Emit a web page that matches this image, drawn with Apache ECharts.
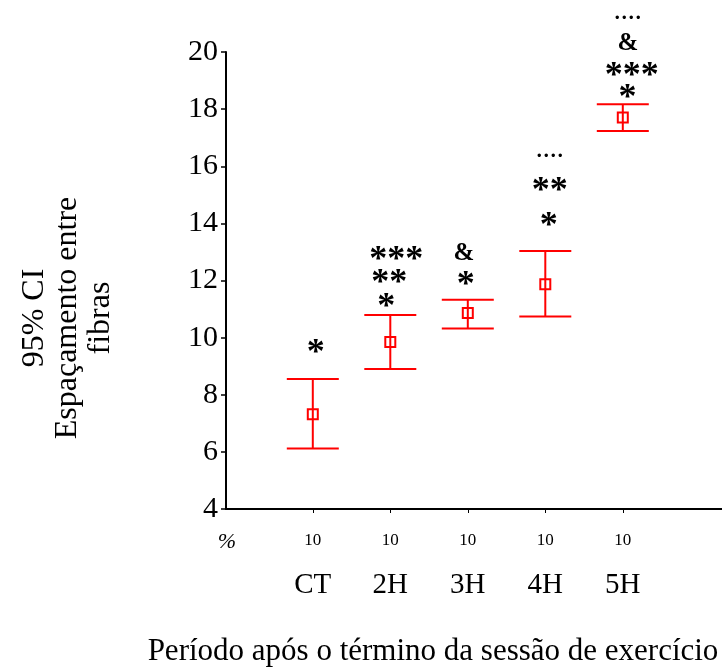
<!DOCTYPE html>
<html>
<head>
<meta charset="utf-8">
<style>html,body{margin:0;padding:0;background:#fff}#c{width:722px;height:668px}</style>
<script src="https://cdn.jsdelivr.net/npm/echarts@6/dist/echarts.min.js"></script>
</head>
<body>
<div id="c"></div>
<script>
// ---- data ----
const categories = ['CT', '2H', '3H', '4H', '5H'];
const nLabels = ['10', '10', '10', '10', '10'];
const means = [7.32, 9.85, 10.86, 11.87, 17.71];
const lower = [6.12, 8.90, 10.32, 10.74, 17.23];
const upper = [8.55, 10.79, 11.33, 13.03, 18.17];
const annotations = [['*'], ['*', '**', '***'], ['*', '&'], ['*', '**', '····'], ['*', '***', '&', '····']];
const yTicks = [4, 6, 8, 10, 12, 14, 16, 18, 20];

// ---- layout (pixels, not data) ----
const annotDy = [[31], [13, 37, 60.7], [20, 46], [30.7, 65.7, 96.4], [12, 33.7, 60.4, 88]];
const annotDx = [[3], [-4, -1, 6], [-2, -4], [3.5, 4.5, 4.5], [4.6, 9, 5, 5]];
const SERIF = '"Liberation Serif", "Times New Roman", serif';
const RED = '#ff0000';

const seriesData = categories.map((c, i) => [i + 1, means[i], lower[i], upper[i]]);

function glyphStyle(t) {
  if (t.indexOf('*') >= 0) return { font: 'bold 36px ' + SERIF, dy: 6 };
  if (t === '&') return { font: 'bold 25px ' + SERIF, dy: 0 };
  return { font: 'bold 21px ' + SERIF, dy: 2 };
}

function renderItem(params, api) {
  const idx = params.dataIndex;
  const xv = api.value(0);
  const pm = api.coord([xv, api.value(1)]);
  const pl = api.coord([xv, api.value(2)]);
  const pu = api.coord([xv, api.value(3)]);
  const x = pm[0];
  const half = 26;
  const sq = 10;
  const ls = { stroke: RED, lineWidth: 2 };
  const children = [
    { type: 'line', shape: { x1: x, y1: pl[1], x2: x, y2: pu[1] }, style: ls },
    { type: 'line', shape: { x1: x - half, y1: pu[1], x2: x + half, y2: pu[1] }, style: ls },
    { type: 'line', shape: { x1: x - half, y1: pl[1], x2: x + half, y2: pl[1] }, style: ls },
    { type: 'rect', shape: { x: x - sq / 2, y: pm[1] - sq / 2, width: sq, height: sq }, style: { stroke: RED, fill: 'none', lineWidth: 2 } }
  ];
  annotations[idx].forEach((t, k) => {
    const g = glyphStyle(t);
    children.push({
      type: 'text',
      style: {
        text: t, x: x + annotDx[idx][k], y: pu[1] - annotDy[idx][k] + g.dy,
        font: g.font, fill: '#000', align: 'center', verticalAlign: 'middle'
      }
    });
  });
  return { type: 'group', children };
}

const chart = echarts.init(document.getElementById('c'), null, { renderer: 'canvas' });
chart.setOption({
  animation: false,
  backgroundColor: '#fff',
  grid: { left: 226, right: 0, top: 52, bottom: 159, containLabel: false },
  xAxis: {
    type: 'value', min: -0.12, max: 6.28,
    splitLine: { show: false },
    axisLine: { show: true, onZero: false, lineStyle: { color: '#000', width: 2 } },
    axisTick: { show: true, customValues: [1, 2, 3, 4, 5], length: 4, lineStyle: { color: '#000', width: 1 } },
    axisLabel: {
      customValues: [1, 2, 3, 4, 5], margin: 17, color: '#000',
      formatter: v => '{n|' + nLabels[v - 1] + '}\n{c|' + categories[v - 1] + '}',
      rich: {
        n: { fontFamily: SERIF, fontSize: 17, lineHeight: 30, color: '#000' },
        c: { fontFamily: SERIF, fontSize: 29, lineHeight: 58, color: '#000' }
      }
    }
  },
  yAxis: {
    type: 'value', min: yTicks[0], max: yTicks[yTicks.length - 1], interval: 2,
    splitLine: { show: false },
    axisLine: { show: true, onZero: false, lineStyle: { color: '#000', width: 2 } },
    axisTick: { show: true, length: 5, lineStyle: { color: '#000', width: 1.5 } },
    axisLabel: { margin: 8, color: '#000', fontFamily: SERIF, fontSize: 30 }
  },
  graphic: [
    { type: 'text', x: 227, y: 542, style: { text: '%', font: 'italic 22px ' + SERIF, fill: '#000', align: 'center', verticalAlign: 'middle' } },
    { type: 'text', x: 68, y: 318, rotation: Math.PI / 2, style: { text: '95% CI\nEspaçamento entre\nfibras', font: '32px ' + SERIF, lineHeight: 33, fill: '#000', align: 'center', verticalAlign: 'middle' } },
    { type: 'text', x: 433, y: 652, style: { text: 'Período após o término da sessão de exercício', font: '31px ' + SERIF, fill: '#000', align: 'center', verticalAlign: 'middle' } }
  ],
  series: [{
    type: 'custom', renderItem, data: seriesData, clip: false,
    encode: { x: 0, y: 1 }
  }]
});
</script>
</body>
</html>
